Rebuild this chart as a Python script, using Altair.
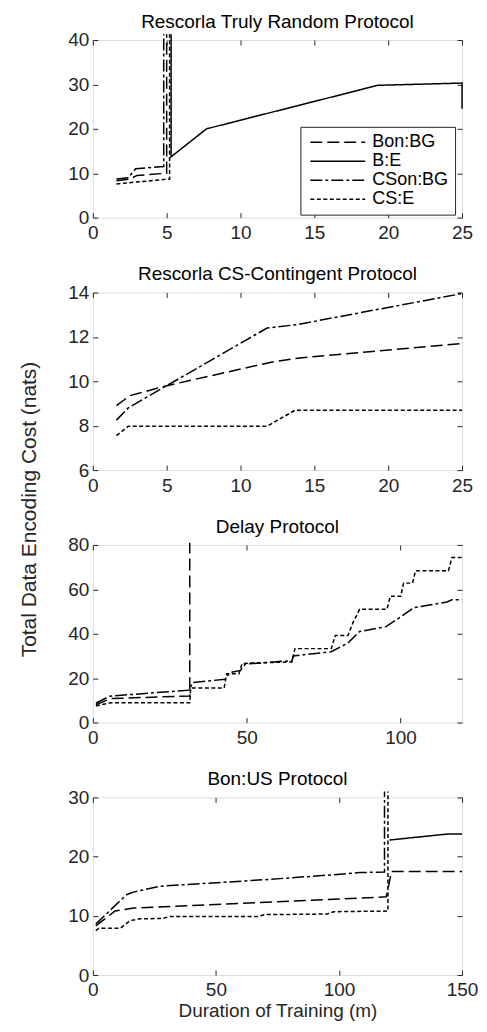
import altair as alt
import pandas as pd

SERIES = ["Bon:BG", "B:E", "CSon:BG", "CS:E"]
DASHES = [[12, 5], [1, 0], [12, 3, 3, 3], [4, 2.5]]

# ---- Panel 1: Rescorla Truly Random Protocol ----
p1_bon_x = [1.6, 2.5, 3.0, 5.0, 5.0]
p1_bon_y = [8.3, 8.7, 9.5, 10.0, 41.3]
p1_be_x = [5.3, 5.3, 7.7, 19.3, 25.0, 25.0]
p1_be_y = [41.3, 13.7, 20.0, 29.8, 30.3, 24.5]
p1_cson_x = [1.6, 2.4, 2.9, 4.8, 4.8]
p1_cson_y = [8.7, 9.0, 11.0, 11.5, 41.3]
p1_cs_x = [1.6, 5.2, 5.2]
p1_cs_y = [7.6, 8.7, 41.3]

# ---- Panel 2: Rescorla CS-Contingent Protocol ----
p2_bon_x = [1.6, 2.5, 5.0, 12.0, 14.0, 25.0]
p2_bon_y = [8.9, 9.35, 9.8, 10.85, 11.05, 11.7]
p2_cson_x = [1.6, 2.4, 5.0, 11.8, 13.8, 25.0]
p2_cson_y = [8.25, 8.8, 9.8, 12.4, 12.55, 13.95]
p2_cs_x = [1.6, 2.4, 11.8, 13.7, 25.0]
p2_cs_y = [7.55, 7.97, 7.97, 8.7, 8.7]

# ---- Panel 3: Delay Protocol ----
p3_bon_x = [1.0, 5.8, 31.5, 31.5]
p3_bon_y = [8.0, 10.8, 12.0, 81.0]
p3_cson_x = [1.0, 5.5, 31.5, 32.3, 43.0, 44.5, 48.0, 49.5, 64.7, 65.2, 77.5,
             82.9, 86.7, 95.3, 100.6, 104.4, 115.1, 116.7, 120.0]
p3_cson_y = [8.7, 11.9, 14.6, 18.0, 19.5, 22.5, 23.5, 26.3, 27.9, 30.0, 31.9,
             35.8, 41.0, 43.2, 48.1, 51.8, 54.3, 55.3, 55.3]
p3_cs_x = [1.0, 5.8, 31.5, 31.8, 42.7, 43.5, 47.5, 48.5, 50.8, 64.7, 65.7, 77.5,
           78.8, 82.9, 84.6, 86.7, 95.6, 96.7, 100.1, 101.0, 103.9, 104.9,
           115.6, 116.7, 120.0]
p3_cs_y = [7.5, 8.9, 8.9, 15.6, 15.6, 22.0, 22.0, 26.5, 26.8, 27.3, 33.3, 33.3,
           39.2, 39.2, 45.1, 51.0, 51.0, 56.9, 56.9, 62.8, 62.8, 68.4,
           68.4, 74.3, 74.3]

# ---- Panel 4: Bon:US Protocol ----
p4_bon_x = [1.2, 9.0, 16.5, 119.2, 120.3, 121.3, 150.0]
p4_bon_y = [8.3, 10.8, 11.3, 13.2, 15.3, 17.5, 17.5]
p4_be_x = [120.5, 143.8, 150.0]
p4_be_y = [22.8, 23.8, 23.8]
p4_cson_x = [1.2, 12.5, 13.9, 16.5, 27.2, 69.9, 96.5, 108.5, 118.5, 118.5]
p4_cson_y = [8.6, 13.1, 13.6, 14.0, 15.0, 16.1, 16.9, 17.3, 17.4, 31.0]
p4_cs_x = [1.2, 2.5, 11.2, 15.2, 19.2, 28.5, 31.2, 67.2, 69.9, 95.2, 97.9,
           119.9, 119.9]
p4_cs_y = [7.5, 7.9, 7.9, 9.2, 9.5, 9.55, 9.9, 9.9, 10.2, 10.3, 10.7,
           10.8, 31.0]

TITLES = ["Rescorla Truly Random Protocol", "Rescorla CS-Contingent Protocol",
          "Delay Protocol", "Bon:US Protocol"]
YTITLE = "Total Data Encoding Cost (nats)"
XTITLE = "Duration of Training (m)"

FONT = "Liberation Sans"
INK = "#262626"
PW, PH = 370, 178
GAP = 75


def frame(series):
    rows = []
    for name, xs, ys in series:
        for i, (x, y) in enumerate(zip(xs, ys)):
            rows.append({"series": name, "x": x, "y": y, "order": i})
    return pd.DataFrame(rows)


def panel(df, title, xdom, xticks, ydom, yticks, legend=None, xtitle=None, ytitle=False):
    x_axis = dict(orient="bottom", values=xticks, domain=False, grid=False,
                  tickSize=5, offset=-5, labelPadding=6, labelFontSize=19,
                  labelFont=FONT, labelColor=INK, tickColor=INK, labelFlush=False)
    if xtitle:
        x_axis.update(title=xtitle, titleFontSize=19, titleFont=FONT,
                      titleFontWeight="normal", titleColor=INK, titlePadding=2)
    else:
        x_axis.update(title=None)
    y_axis = dict(orient="left", values=yticks, domain=False, grid=False,
                  tickSize=5, offset=-5, labelPadding=4, labelFontSize=19,
                  labelFont=FONT, labelColor=INK, tickColor=INK, labelFlush=False)
    if ytitle:
        y_axis.update(title=YTITLE, titleFontSize=21,
                      titleFont=FONT, titleFontWeight="normal", titleColor=INK,
                      titleX=-68, titleY=217, titleAngle=270, titleAlign="center",
                      titleBaseline="middle")
    else:
        y_axis.update(title=None)

    dash_kwargs = dict(scale=alt.Scale(domain=SERIES, range=DASHES))
    if legend is not None:
        dash_kwargs["legend"] = legend
    else:
        dash_kwargs["legend"] = None

    lines = alt.Chart(df).mark_line(color="black", strokeWidth=1.5, clip=False).encode(
        x=alt.X("x:Q", scale=alt.Scale(domain=xdom, nice=False, zero=False),
                axis=alt.Axis(**x_axis)),
        y=alt.Y("y:Q", scale=alt.Scale(domain=ydom, nice=False, zero=False),
                axis=alt.Axis(**y_axis)),
        strokeDash=alt.StrokeDash("series:N", **dash_kwargs),
        order=alt.Order("order:Q"),
    )
    ghost = alt.Chart(df).mark_point(opacity=0).encode(
        x=alt.X("x:Q", axis=alt.Axis(orient="top", values=xticks, labels=False,
                                     domain=False, grid=False, tickSize=5,
                                     offset=-5, tickColor=INK, title=None)),
        y=alt.Y("y:Q", axis=alt.Axis(orient="right", values=yticks, labels=False,
                                     domain=False, grid=False, tickSize=5,
                                     offset=-5, tickColor=INK, title=None)),
    )
    return alt.layer(lines, ghost).resolve_axis(x="independent", y="independent").properties(
        width=PW, height=PH,
        title=alt.TitleParams(title, fontSize=19, font=FONT, fontWeight="normal",
                              color="black", anchor="middle", offset=-1, frame="group"),
    )


legend1 = alt.Legend(orient="none", legendX=208, legendY=87, title=None,
                     symbolType="stroke", symbolSize=3025, symbolStrokeWidth=1.5,
                     symbolStrokeColor="black", clipHeight=19, rowPadding=0,
                     labelFontSize=18, labelFont=FONT, labelColor="black",
                     labelOffset=6, padding=6, strokeColor=INK, fillColor="white",
                     cornerRadius=0, symbolOffset=3, labelLimit=200)

df1 = frame([("Bon:BG", p1_bon_x, p1_bon_y), ("B:E", p1_be_x, p1_be_y),
             ("CSon:BG", p1_cson_x, p1_cson_y), ("CS:E", p1_cs_x, p1_cs_y)])
df2 = frame([("Bon:BG", p2_bon_x, p2_bon_y), ("CSon:BG", p2_cson_x, p2_cson_y),
             ("CS:E", p2_cs_x, p2_cs_y)])
df3 = frame([("Bon:BG", p3_bon_x, p3_bon_y), ("CSon:BG", p3_cson_x, p3_cson_y),
             ("CS:E", p3_cs_x, p3_cs_y)])
df4 = frame([("Bon:BG", p4_bon_x, p4_bon_y), ("B:E", p4_be_x, p4_be_y),
             ("CSon:BG", p4_cson_x, p4_cson_y), ("CS:E", p4_cs_x, p4_cs_y)])

c1 = panel(df1, TITLES[0], [0, 25], [0, 5, 10, 15, 20, 25], [0, 40], [0, 10, 20, 30, 40], legend=legend1)
c2 = panel(df2, TITLES[1], [0, 25], [0, 5, 10, 15, 20, 25], [6, 14], [6, 8, 10, 12, 14], ytitle=True)
c3 = panel(df3, TITLES[2], [0, 120], [0, 50, 100], [0, 80], [0, 20, 40, 60, 80])
c4 = panel(df4, TITLES[3], [0, 150], [0, 50, 100, 150], [0, 30], [0, 10, 20, 30],
           xtitle=XTITLE)

chart = alt.vconcat(c1, c2, c3, c4, spacing=GAP, bounds="flush").resolve_scale(
    x="independent", y="independent", strokeDash="independent"
).resolve_legend(strokeDash="independent").properties(
    padding={"left": 10, "top": 3, "right": 0, "bottom": 0}
).configure_view(stroke=INK, strokeWidth=1).configure(font=FONT)

chart.save("out.html", embed_options={"renderer": "svg", "actions": False})
